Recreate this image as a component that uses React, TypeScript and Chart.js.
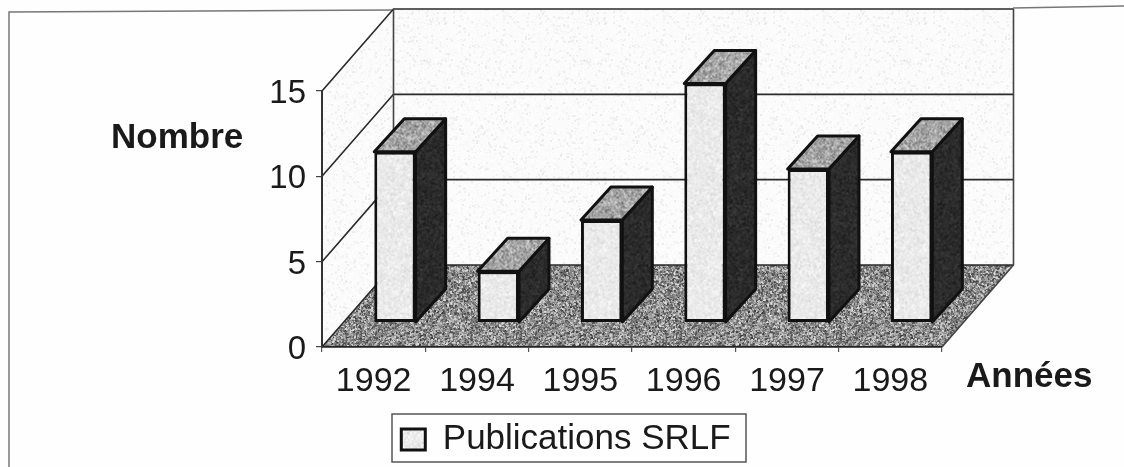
import React, { useEffect, useRef } from "react";
import { Chart, registerables } from "chart.js";

Chart.register(...registerables);

const categories = ["1992", "1994", "1995", "1996", "1997", "1998"];
const publications = [10, 3, 6, 14, 9, 10];
const seriesName = "Publications SRLF";
const yTitle = "Nombre";
const xTitle = "Années";

const FONT = '"Liberation Sans", Arial, sans-serif';
const WALL_DX = 71.5;
const WALL_DY = -82;
const BAR_DX = 21.3;
const BAR_DY = -24.5;
const BAR_DEPTH_X = 30;
const BAR_DEPTH_Y = -33;

function speckle(base: number, spread: number, sparse: number, seed: number) {
  const c = document.createElement("canvas");
  c.width = 160;
  c.height = 160;
  const g = c.getContext("2d")!;
  let s = seed;
  const next = () => {
    s = (s * 1664525 + 1013904223) >>> 0;
    return (s >>> 8) / 16777216;
  };
  g.fillStyle = `rgb(${base},${base},${base})`;
  g.fillRect(0, 0, 160, 160);
  const steps = Math.floor(160 * 160 * sparse);
  for (let i = 0; i < steps; i++) {
    const v = Math.max(0, Math.min(255, Math.round(base + (next() - 0.5) * 2 * spread)));
    g.fillStyle = `rgba(${v},${v},${v},0.6)`;
    const size = next() > 0.5 ? 2 : 1;
    g.fillRect(Math.floor(next() * 160), Math.floor(next() * 160), size, size);
  }
  return c;
}

function pattern(ctx: CanvasRenderingContext2D, base: number, spread: number, sparse: number, seed: number) {
  return ctx.createPattern(speckle(base, spread, sparse, seed), "repeat")!;
}

export default function App() {
  const ref = useRef<HTMLCanvasElement>(null);

  useEffect(() => {
    document.body.style.margin = "0";
    document.body.style.overflow = "hidden";
    const canvas = ref.current!;
    const ctx0 = canvas.getContext("2d")!;
    const frontFill = pattern(ctx0, 234, 24, 0.5, 11);
    const topFill = pattern(ctx0, 165, 70, 0.9, 23);
    const sideFill = pattern(ctx0, 44, 24, 0.6, 37);
    const floorFill = pattern(ctx0, 140, 105, 1.1, 51);
    const wallFill = pattern(ctx0, 251, 26, 0.2, 73);

    const poly = (c: CanvasRenderingContext2D, pts: number[][]) => {
      c.beginPath();
      pts.forEach((p, i) => (i ? c.lineTo(p[0], p[1]) : c.moveTo(p[0], p[1])));
      c.closePath();
    };

    const box3d = {
      id: "box3d",
      afterLayout(chart: any) {
        const l = chart.legend;
        l.left = 390;
        l.right = 742;
        l.top = 413;
        l.bottom = 462;
        l.width = 352;
        l.height = 49;
        l.adjustHitBoxes();
      },
      beforeDraw(chart: any) {
        const c: CanvasRenderingContext2D = chart.ctx;
        const { left, right } = chart.chartArea;
        const y = chart.scales.y;
        const y0 = y.getPixelForValue(0);
        const yMax = y.getPixelForValue(15);
        c.save();
        c.fillStyle = "#fefefe";
        c.fillRect(0, 0, chart.width, chart.height);
        // scanned page frame
        c.strokeStyle = "#777";
        c.lineWidth = 1.5;
        c.beginPath();
        c.moveTo(9, 467);
        c.lineTo(9, 12);
        c.lineTo(394, 10);
        c.stroke();
        c.beginPath();
        c.moveTo(1013, 8);
        c.lineTo(1124, 6);
        c.stroke();
        // walls
        c.fillStyle = wallFill;
        poly(c, [[left, y0], [left + WALL_DX, y0 + WALL_DY], [left + WALL_DX, yMax + WALL_DY], [left, yMax]]);
        c.fill();
        poly(c, [[left + WALL_DX, y0 + WALL_DY], [right + WALL_DX, y0 + WALL_DY], [right + WALL_DX, yMax + WALL_DY], [left + WALL_DX, yMax + WALL_DY]]);
        c.fill();
        // floor
        c.fillStyle = floorFill;
        poly(c, [[left, y0], [right, y0], [right + WALL_DX, y0 + WALL_DY], [left + WALL_DX, y0 + WALL_DY]]);
        c.fill();
        // gridlines on the walls
        c.strokeStyle = "#2a2a2a";
        c.lineWidth = 1.6;
        y.ticks.forEach((t: any) => {
          const py = y.getPixelForValue(t.value);
          c.beginPath();
          c.moveTo(left, py);
          c.lineTo(left + WALL_DX, py + WALL_DY);
          c.lineTo(right + WALL_DX, py + WALL_DY);
          c.stroke();
        });
        c.strokeStyle = "#444";
        c.lineWidth = 1.6;
        c.beginPath();
        c.moveTo(left + WALL_DX, y0 + WALL_DY);
        c.lineTo(left + WALL_DX, yMax + WALL_DY);
        c.moveTo(right + WALL_DX, yMax + WALL_DY);
        c.lineTo(right + WALL_DX, y0 + WALL_DY);
        c.lineTo(right, y0);
        c.stroke();
        c.restore();
      },
      beforeDatasetsDraw(chart: any) {
        const c: CanvasRenderingContext2D = chart.ctx;
        c.save();
        c.translate(BAR_DX, BAR_DY);
        const meta = chart.getDatasetMeta(0);
        c.lineJoin = "round";
        meta.data.forEach((b: any) => {
          const xl = b.x - b.width / 2;
          const xr = b.x + b.width / 2;
          c.strokeStyle = "#111";
          c.lineWidth = 3;
          c.fillStyle = sideFill;
          poly(c, [[xr, b.y], [xr + BAR_DEPTH_X, b.y + BAR_DEPTH_Y], [xr + BAR_DEPTH_X, b.base + BAR_DEPTH_Y], [xr, b.base]]);
          c.fill();
          c.stroke();
          c.fillStyle = topFill;
          poly(c, [[xl, b.y], [xl + BAR_DEPTH_X, b.y + BAR_DEPTH_Y], [xr + BAR_DEPTH_X, b.y + BAR_DEPTH_Y], [xr, b.y]]);
          c.fill();
          c.stroke();
        });
      },
      afterDatasetsDraw(chart: any) {
        chart.ctx.restore();
      },
      afterDraw(chart: any) {
        const c: CanvasRenderingContext2D = chart.ctx;
        c.save();
        c.strokeStyle = "#555";
        c.lineWidth = 1.5;
        c.strokeRect(392, 414, 354, 48);
        c.fillStyle = "#1a1a1a";
        c.font = `bold 35px ${FONT}`;
        c.textBaseline = "middle";
        c.textAlign = "left";
        c.fillText(yTitle, 111, 138);
        c.fillText(xTitle, 966, 377);
        c.restore();
      },
    };

    const chart = new Chart(canvas, {
      type: "bar",
      data: {
        labels: categories,
        datasets: [
          {
            label: seriesName,
            data: publications,
            backgroundColor: frontFill,
            borderColor: "#111",
            borderWidth: 3,
            borderSkipped: false,
            barPercentage: 0.4,
            categoryPercentage: 1,
          },
        ],
      },
      options: {
        responsive: false,
        animation: false,
        layout: { padding: { left: 0, top: 91, right: 182, bottom: 0 } },
        plugins: {
          tooltip: { enabled: false },
          title: { display: false },
          legend: {
            position: "bottom",
            align: "center",
            labels: {
              font: { family: FONT, size: 35 },
              color: "#1a1a1a",
              boxWidth: 24,
              boxHeight: 21,
              padding: 9,
            },
          },
        },
        scales: {
          x: {
            offset: true,
            afterFit(s: any) {
              s.height = 66;
            },
            grid: { display: true, drawOnChartArea: false, drawTicks: true, tickLength: 5, color: "#555", lineWidth: 1.2 },
            border: { display: true, color: "#222", width: 1.8 },
            ticks: { font: { family: FONT, size: 34 }, color: "#1a1a1a", padding: 9, autoSkip: false, maxRotation: 0 },
          },
          y: {
            min: 0,
            max: 15,
            afterFit(s: any) {
              s.width = 322;
            },
            grid: { display: true, drawOnChartArea: false, drawTicks: true, tickLength: 6, color: "#444", lineWidth: 1.2 },
            border: { display: true, color: "#333", width: 2 },
            ticks: { stepSize: 5, font: { family: FONT, size: 33 }, color: "#1a1a1a", padding: 10, labelOffset: 3 },
          },
        },
      },
      plugins: [box3d as any],
    } as any);
    return () => chart.destroy();
  }, []);

  return (
    <canvas
      ref={ref}
      width={1124}
      height={467}
      style={{ display: "block", width: 1124, height: 467, filter: "blur(0.4px)" }}
    />
  );
}
